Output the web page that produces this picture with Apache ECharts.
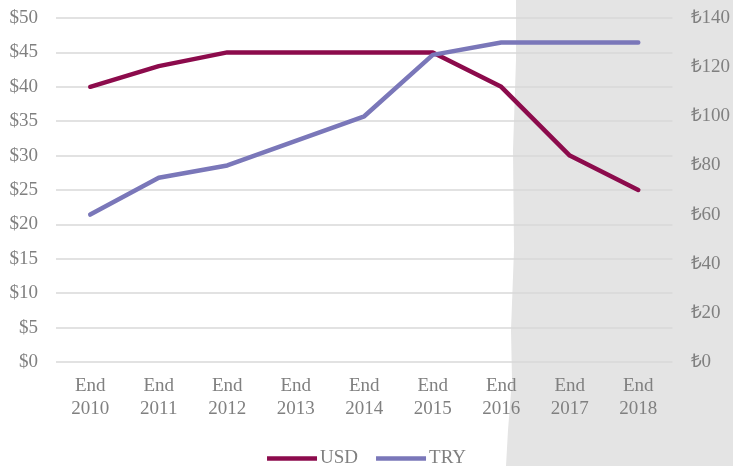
<!DOCTYPE html>
<html>
<head>
<meta charset="utf-8">
<script src="https://cdn.jsdelivr.net/npm/echarts@6/dist/echarts.min.js"></script>
<style>
  html, body { margin: 0; padding: 0; background: #fff; }
  #chart { width: 733px; height: 466px; }
</style>
</head>
<body>
<div id="chart"></div>
<script>
const years = ['End\n2010', 'End\n2011', 'End\n2012', 'End\n2013', 'End\n2014', 'End\n2015', 'End\n2016', 'End\n2017', 'End\n2018']
const usd = [40, 43, 45, 45, 45, 45, 40, 30, 25]
const tryVals = [60, 75, 80, 90, 100, 125, 130, 130, 130]

const font = 'Liberation Serif'
const grey = '#808080'

let myChart = echarts.init(document.getElementById('chart'))
myChart.setOption({
  backgroundColor: '#fff',
  animation: false,
  // textured grey strip on the right
  graphic: [{
    type: 'polygon',
    z: -10,
    shape: {
      points: [[516, 0], [733, 0], [733, 466], [506, 466], [508, 430], [512, 380], [511, 330], [514, 250], [513, 150], [516, 60]]
    },
    style: { fill: '#e4e4e4' }
  }],
  grid: { left: 56, right: 59, top: 18, bottom: 104 },
  legend: {
    top: 444,
    left: 'center',
    itemWidth: 50,
    itemHeight: 4.5,
    itemGap: 18,
    icon: 'rect',
    textStyle: { fontFamily: font, fontSize: 19, color: grey, padding: [0, 0, 0, -2] },
    data: ['USD', 'TRY']
  },
  xAxis: {
    type: 'category',
    data: years,
    axisTick: { show: false },
    axisLine: { show: false },
    axisLabel: { fontFamily: font, fontSize: 19, color: grey, lineHeight: 23, margin: 13, interval: 0 }
  },
  yAxis: [{
    type: 'value',
    min: 0,
    max: 50,
    interval: 5,
    axisLabel: { fontFamily: font, fontSize: 19, color: grey, margin: 18, formatter: v => '$' + v },
    splitLine: { lineStyle: { color: '#d9d9d9', width: 1.5 } }
  }, {
    type: 'value',
    min: 0,
    max: 140,
    interval: 20,
    position: 'right',
    axisLabel: { fontFamily: font, fontSize: 19, color: grey, margin: 18, formatter: v => '₺' + v },
    splitLine: { show: false }
  }],
  series: [{
    name: 'USD',
    type: 'line',
    data: usd,
    yAxisIndex: 0,
    symbol: 'none',
    itemStyle: { color: '#8c0b4c' },
    lineStyle: { width: 4.5, color: '#8c0b4c', cap: 'round', join: 'round' }
  }, {
    name: 'TRY',
    type: 'line',
    data: tryVals,
    yAxisIndex: 1,
    symbol: 'none',
    itemStyle: { color: '#7a77b9' },
    lineStyle: { width: 4.5, color: '#7a77b9', cap: 'round', join: 'round' }
  }]
})
</script>
</body>
</html>
